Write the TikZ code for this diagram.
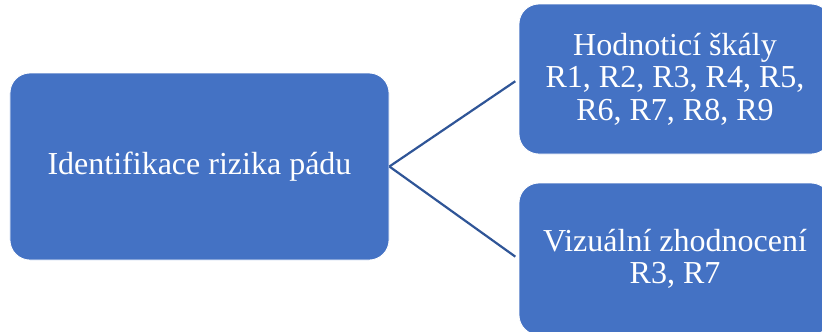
\documentclass[tikz,border=0pt]{standalone}
\usepackage{fontspec}
\setmainfont{Liberation Serif}
\definecolor{boxblue}{HTML}{4472C4}
\definecolor{linkblue}{HTML}{2F5597}
\begin{document}
\begin{tikzpicture}[x=1bp,y=-1bp,
  box/.style={draw=white,line width=0.8bp,fill=boxblue,rounded corners=20bp,text=white,
    align=center,inner sep=0pt,font=\fontsize{32bp}{32.5bp}\selectfont},
  link/.style={draw=linkblue,line width=2.2bp}]
\useasboundingbox (0,0) rectangle (822,331);
\clip (0,0) rectangle (822,331);
\node[box,minimum width=379bp,minimum height=187bp] (src) at (199.5,166.5) {Identifikace rizika pádu};
\node[box,minimum width=312bp,minimum height=150bp] (top) at (675,79) {Hodnoticí škály\\R1, R2, R3, R4, R5,\\R6, R7, R8, R9};
\node[box,minimum width=312bp,minimum height=152bp] (bot) at (675,259) {Vizuální zhodnocení\\R3, R7};
\draw[link,shorten >=4bp] (src.east) -- (top.west);
\draw[link,shorten >=4bp] (src.east) -- (bot.west);
\end{tikzpicture}
\end{document}
